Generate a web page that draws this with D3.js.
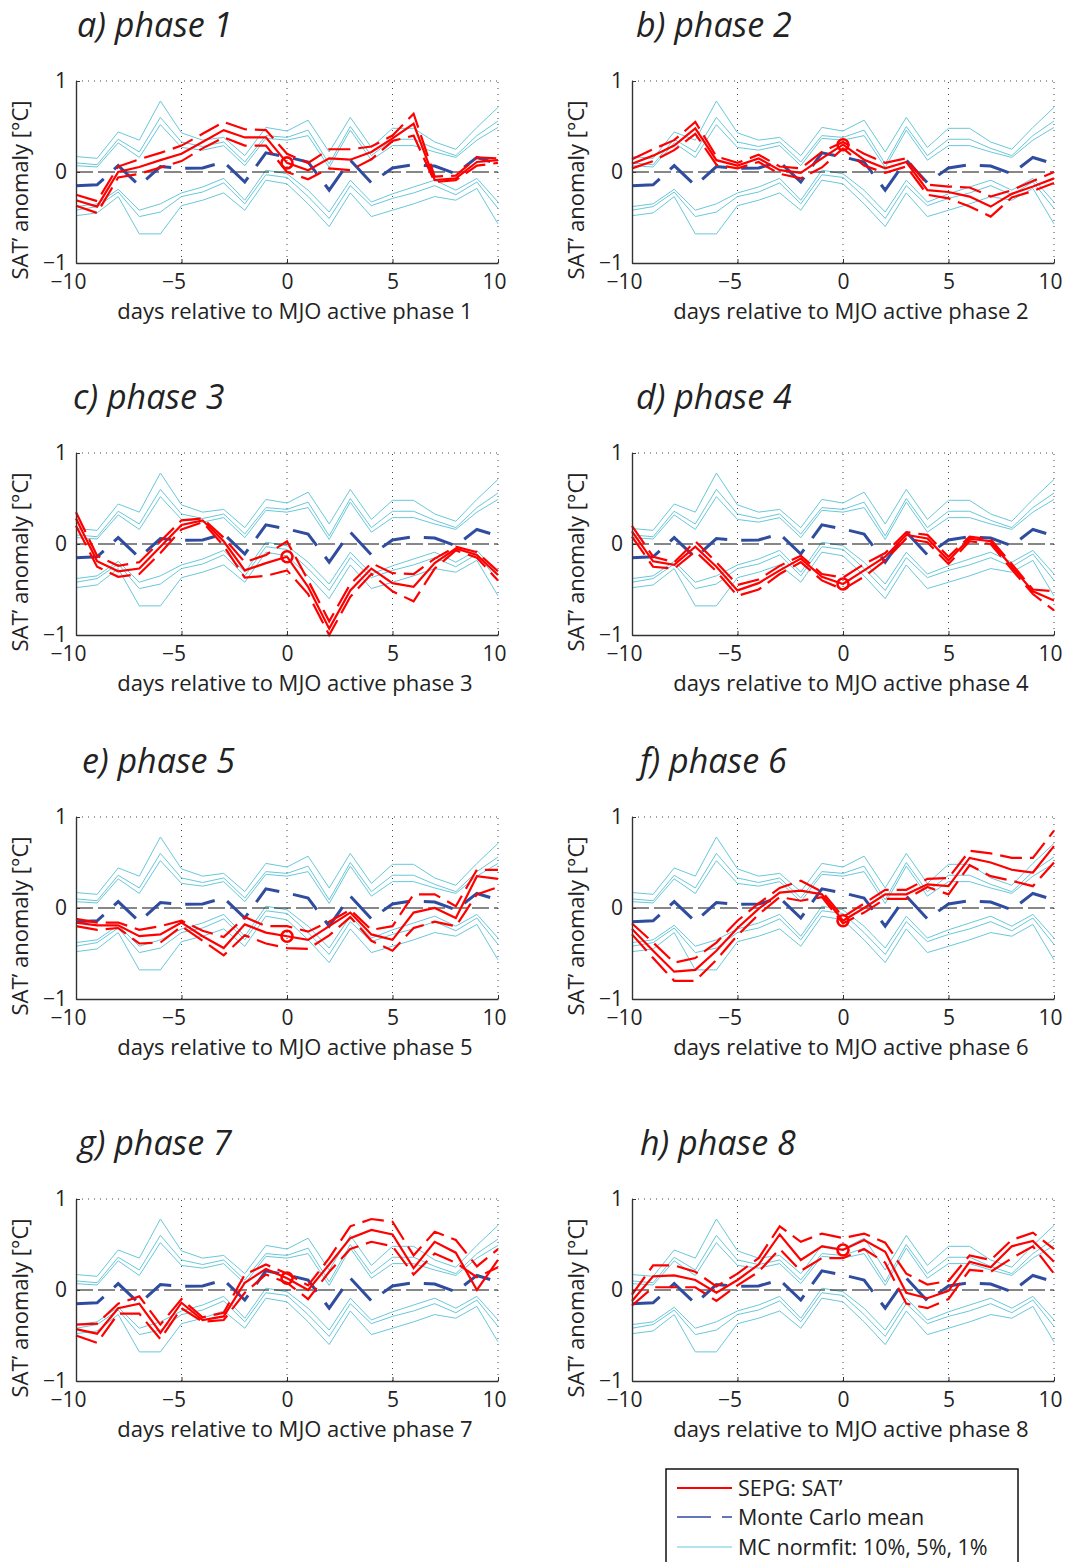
<!DOCTYPE html>
<html>
<head>
<meta charset="utf-8">
<script src="https://cdn.jsdelivr.net/npm/d3@7"></script>
<style>
  body { margin: 0; background: #fff; }
  text { font-family: "Open Sans", "Noto Sans", sans-serif; fill: #222; }
</style>
</head>
<body>
<svg id="fig" width="1072" height="1562"></svg>
<script>
// ---------------- data ----------------
const days = [-10, -9, -8, -7, -6, -5, -4, -3, -2, -1, 0, 1, 2, 3, 4, 5, 6, 7, 8, 9, 10];
const xTicks = [-10, -5, 0, 5, 10];
const yTicks = [-1, 0, 1];
const panelTitles = ["a) phase 1", "b) phase 2", "c) phase 3", "d) phase 4",
                     "e) phase 5", "f) phase 6", "g) phase 7", "h) phase 8"];
const phaseNumbers = [1, 2, 3, 4, 5, 6, 7, 8];

// Monte Carlo significance envelopes (same in every panel)
const mcUpper1  = [0.17, 0.15, 0.44, 0.35, 0.78, 0.43, 0.35, 0.38, 0.18, 0.49, 0.45, 0.57, 0.22, 0.60, 0.27, 0.48, 0.48, 0.33, 0.25, 0.49, 0.71];
const mcUpper5  = [0.10, 0.08, 0.36, 0.22, 0.60, 0.33, 0.28, 0.33, 0.11, 0.40, 0.38, 0.46, 0.09, 0.50, 0.18, 0.36, 0.36, 0.26, 0.18, 0.40, 0.56];
const mcUpper10 = [0.07, 0.055, 0.32, 0.16, 0.52, 0.27, 0.24, 0.29, 0.07, 0.37, 0.35, 0.40, 0.05, 0.46, 0.13, 0.29, 0.29, 0.22, 0.16, 0.35, 0.49];
const mcLower10 = [-0.38, -0.35, -0.19, -0.42, -0.35, -0.23, -0.165, -0.07, -0.31, 0.02, -0.02, -0.20, -0.44, -0.09, -0.33, -0.24, -0.165, -0.09, -0.20, -0.07, -0.33];
const mcLower5  = [-0.42, -0.38, -0.22, -0.49, -0.44, -0.27, -0.22, -0.12, -0.35, -0.03, -0.06, -0.27, -0.51, -0.15, -0.37, -0.29, -0.23, -0.15, -0.25, -0.11, -0.40];
const mcLower1  = [-0.48, -0.45, -0.27, -0.68, -0.68, -0.37, -0.31, -0.23, -0.42, -0.09, -0.13, -0.35, -0.60, -0.23, -0.49, -0.42, -0.35, -0.27, -0.31, -0.18, -0.57];
const mcMean    = [-0.15, -0.14, 0.07, -0.15, 0.06, 0.04, 0.045, 0.11, -0.11, 0.21, 0.165, 0.11, -0.20, 0.13, -0.12, 0.045, 0.08, 0.065, -0.02, 0.16, 0.09];

// SEPG SAT' composites: central estimate and upper / lower bounds per phase
const sepgMid1 = [-0.31, -0.38, 0.0, 0.055, 0.13, 0.20, 0.33, 0.46, 0.38, 0.38, 0.10, 0.02, 0.15, 0.135, 0.22, 0.37, 0.53, -0.09, -0.07, 0.11, 0.13];
const sepgHi1  = [-0.25, -0.32, 0.06, 0.14, 0.21, 0.29, 0.42, 0.55, 0.47, 0.46, 0.20, 0.10, 0.25, 0.25, 0.28, 0.40, 0.64, -0.05, -0.04, 0.16, 0.15];
const sepgLo1  = [-0.37, -0.45, -0.06, -0.02, 0.05, 0.12, 0.26, 0.38, 0.29, 0.29, 0.0, -0.08, 0.04, 0.02, 0.14, 0.34, 0.40, -0.11, -0.09, 0.07, 0.10];

const sepgMid2 = [0.09, 0.18, 0.29, 0.48, 0.13, 0.07, 0.15, 0.02, -0.01, 0.15, 0.30, 0.135, 0.04, 0.11, -0.20, -0.22, -0.27, -0.38, -0.24, -0.16, -0.07];
const sepgHi2  = [0.14, 0.25, 0.35, 0.55, 0.17, 0.10, 0.19, 0.06, 0.04, 0.22, 0.33, 0.20, 0.10, 0.15, -0.14, -0.16, -0.17, -0.27, -0.20, -0.10, 0.0];
const sepgLo2  = [0.04, 0.12, 0.24, 0.42, 0.08, 0.04, 0.11, -0.02, -0.07, 0.05, 0.26, 0.07, -0.01, 0.06, -0.25, -0.29, -0.38, -0.49, -0.28, -0.21, -0.12];

const sepgMid3 = [0.28, -0.19, -0.30, -0.27, -0.03, 0.21, 0.26, 0.03, -0.29, -0.21, -0.14, -0.47, -0.93, -0.51, -0.27, -0.43, -0.47, -0.21, -0.05, -0.12, -0.34];
const sepgHi3  = [0.35, -0.13, -0.24, -0.20, 0.03, 0.26, 0.28, 0.07, -0.20, -0.12, 0.03, -0.40, -0.85, -0.44, -0.21, -0.32, -0.33, -0.16, -0.03, -0.09, -0.30];
const sepgLo3  = [0.20, -0.25, -0.36, -0.33, -0.10, 0.16, 0.24, -0.02, -0.37, -0.35, -0.29, -0.55, -1.0, -0.58, -0.33, -0.52, -0.63, -0.27, -0.07, -0.15, -0.40];

const sepgMid4 = [0.14, -0.19, -0.23, -0.03, -0.25, -0.51, -0.43, -0.29, -0.16, -0.36, -0.44, -0.29, -0.14, 0.10, 0.06, -0.18, 0.06, 0.03, -0.25, -0.52, -0.62];
const sepgHi4  = [0.20, -0.14, -0.20, 0.03, -0.20, -0.45, -0.39, -0.24, -0.13, -0.33, -0.37, -0.22, -0.10, 0.13, 0.10, -0.14, 0.08, 0.05, -0.22, -0.50, -0.52];
const sepgLo4  = [0.08, -0.25, -0.27, -0.08, -0.30, -0.57, -0.50, -0.33, -0.20, -0.40, -0.50, -0.36, -0.18, 0.06, 0.02, -0.22, 0.03, 0.0, -0.28, -0.55, -0.73];

const sepgMid5 = [-0.16, -0.19, -0.19, -0.31, -0.29, -0.16, -0.31, -0.44, -0.18, -0.27, -0.31, -0.35, -0.20, -0.05, -0.29, -0.35, -0.05, 0.0, -0.11, 0.35, 0.32];
const sepgHi5  = [-0.12, -0.16, -0.16, -0.24, -0.20, -0.14, -0.25, -0.32, -0.10, -0.20, -0.20, -0.26, -0.15, -0.02, -0.24, -0.20, 0.15, 0.15, 0.02, 0.42, 0.42];
const sepgLo5  = [-0.20, -0.24, -0.22, -0.39, -0.38, -0.20, -0.36, -0.52, -0.30, -0.39, -0.44, -0.45, -0.30, -0.10, -0.36, -0.47, -0.22, -0.15, -0.20, 0.15, 0.23];

const sepgMid6 = [-0.23, -0.47, -0.70, -0.68, -0.47, -0.22, -0.01, 0.17, 0.19, 0.15, -0.14, 0.0, 0.15, 0.15, 0.26, 0.24, 0.55, 0.50, 0.42, 0.39, 0.68];
const sepgHi6  = [-0.17, -0.38, -0.60, -0.55, -0.38, -0.14, 0.05, 0.22, 0.30, 0.18, -0.10, 0.05, 0.20, 0.20, 0.32, 0.33, 0.63, 0.60, 0.55, 0.55, 0.85];
const sepgLo6  = [-0.29, -0.55, -0.80, -0.80, -0.57, -0.30, -0.07, 0.12, 0.08, 0.12, -0.17, -0.05, 0.10, 0.10, 0.23, 0.15, 0.47, 0.35, 0.30, 0.24, 0.50];

const sepgMid7 = [-0.43, -0.48, -0.20, -0.15, -0.47, -0.14, -0.33, -0.29, 0.08, 0.23, 0.13, 0.0, 0.28, 0.57, 0.66, 0.61, 0.24, 0.53, 0.41, 0.0, 0.33];
const sepgHi7  = [-0.38, -0.37, -0.15, -0.07, -0.38, -0.10, -0.30, -0.25, 0.17, 0.28, 0.18, 0.05, 0.35, 0.70, 0.78, 0.75, 0.38, 0.64, 0.55, 0.26, 0.45];
const sepgLo7  = [-0.50, -0.58, -0.26, -0.26, -0.54, -0.20, -0.35, -0.33, -0.03, 0.17, 0.08, -0.10, 0.20, 0.45, 0.53, 0.48, 0.17, 0.40, 0.30, 0.14, 0.25];

const sepgMid8 = [-0.12, 0.15, 0.16, 0.11, -0.03, 0.11, 0.28, 0.61, 0.33, 0.48, 0.44, 0.55, 0.42, -0.03, -0.09, -0.01, 0.31, 0.25, 0.48, 0.54, 0.31];
const sepgHi8  = [-0.05, 0.27, 0.27, 0.20, 0.04, 0.18, 0.35, 0.70, 0.53, 0.62, 0.57, 0.62, 0.52, 0.18, 0.06, 0.10, 0.38, 0.33, 0.55, 0.63, 0.45];
const sepgLo8  = [-0.17, 0.03, 0.03, 0.03, -0.12, 0.05, 0.20, 0.45, 0.21, 0.35, 0.35, 0.45, 0.30, -0.15, -0.20, -0.10, 0.22, 0.20, 0.35, 0.48, 0.18];

const legendLabels = ["SEPG: SAT\u2019", "Monte Carlo mean", "MC normfit: 10%, 5%, 1%"];

// ---------------- layout & style ----------------
const sepgMid = [sepgMid1, sepgMid2, sepgMid3, sepgMid4, sepgMid5, sepgMid6, sepgMid7, sepgMid8];
const sepgHi  = [sepgHi1, sepgHi2, sepgHi3, sepgHi4, sepgHi5, sepgHi6, sepgHi7, sepgHi8];
const sepgLo  = [sepgLo1, sepgLo2, sepgLo3, sepgLo4, sepgLo5, sepgLo6, sepgLo7, sepgLo8];
const mcBands = [mcUpper1, mcUpper5, mcUpper10, mcLower10, mcLower5, mcLower1];

const colLeft = [76, 632], plotW = 422;
const rowTop = [81, 453, 817, 1199], plotH = 182;
const titleX = [77, 636, 73, 636, 82, 640, 78, 640];

const RED = "#ff0000", BLUE = "#2f4c9f", CYAN = "#68c8da", AXIS = "#333";

const svg = d3.select("#fig");

function drawPanel(p) {
  const col = p % 2, row = Math.floor(p / 2);
  const left = colLeft[col], top = rowTop[row];
  const x = d3.scaleLinear().domain([-10, 10]).range([left, left + plotW]);
  const y = d3.scaleLinear().domain([-1, 1]).range([top + plotH, top]);
  const g = svg.append("g");

  // dotted grid: verticals at the x ticks, horizontal along the top
  g.selectAll(".vg").data(xTicks.filter(t => t > -10)).join("line")
    .attr("x1", d => x(d)).attr("x2", d => x(d)).attr("y1", y(-1)).attr("y2", y(1))
    .attr("stroke", "#444").attr("stroke-width", 1).attr("stroke-dasharray", "1,5");
  g.append("line")
    .attr("x1", x(-10)).attr("x2", x(10)).attr("y1", y(1)).attr("y2", y(1))
    .attr("stroke", "#444").attr("stroke-width", 1).attr("stroke-dasharray", "1,5");

  const line = d3.line().x((d, i) => x(days[i])).y(d => y(d));

  // Monte Carlo envelopes
  g.selectAll(".band").data(mcBands).join("path")
    .attr("d", line).attr("fill", "none").attr("stroke", CYAN).attr("stroke-width", 1);

  // zero reference
  g.append("line").attr("x1", x(-10)).attr("x2", x(10)).attr("y1", y(0)).attr("y2", y(0))
    .attr("stroke", "#111").attr("stroke-width", 1.2).attr("stroke-dasharray", "17,5");

  // Monte Carlo mean
  g.append("path").attr("d", line(mcMean)).attr("fill", "none")
    .attr("stroke", BLUE).attr("stroke-width", 3).attr("stroke-dasharray", "30,14");

  // SEPG composites
  [sepgHi[p], sepgLo[p]].forEach(s => {
    g.append("path").attr("d", line(s)).attr("fill", "none")
      .attr("stroke", RED).attr("stroke-width", 2.2).attr("stroke-dasharray", "22,8");
  });
  g.append("path").attr("d", line(sepgMid[p])).attr("fill", "none")
    .attr("stroke", RED).attr("stroke-width", 2.2);
  const i0 = days.indexOf(0);
  g.append("circle").attr("cx", x(0)).attr("cy", y(sepgMid[p][i0])).attr("r", 5.5)
    .attr("fill", "none").attr("stroke", RED).attr("stroke-width", 2.6);

  // axes
  const ax = g.append("g").attr("transform", `translate(0,${y(-1)})`)
    .call(d3.axisBottom(x).tickValues(xTicks).tickSizeInner(-4).tickSizeOuter(0).tickPadding(11));
  const ay = g.append("g").attr("transform", `translate(${x(-10)},0)`)
    .call(d3.axisLeft(y).tickValues(yTicks).tickSizeInner(-4).tickSizeOuter(0).tickPadding(9).tickFormat(d3.format("d")));
  [ax, ay].forEach(a => {
    a.select(".domain").attr("stroke", AXIS).attr("stroke-width", 1.4);
    a.selectAll(".tick line").attr("stroke", AXIS);
    a.selectAll("text").attr("font-size", 21).attr("font-family", null).attr("fill", "#222");
  });
  ax.selectAll(".tick text").attr("dx", d => d < 0 ? -8 : (d >= 10 ? -4 : 0));

  // labels
  g.append("text").attr("x", x(0) + 8).attr("y", top + plotH + 56)
    .attr("text-anchor", "middle").attr("font-size", 22)
    .text(`days relative to MJO active phase ${phaseNumbers[p]}`);
  g.append("text").attr("transform", `translate(${left - 48},${top + plotH / 2 + 18}) rotate(-90)`)
    .attr("text-anchor", "middle").attr("font-size", 22)
    .text("SAT\u2019 anomaly [\u00B0C]");
  g.append("text").attr("x", titleX[p]).attr("y", top - 44)
    .attr("font-size", 34).attr("font-style", "italic").attr("fill", "#111")
    .text(panelTitles[p]);
}

phaseNumbers.forEach((_, p) => drawPanel(p));

// legend
const lg = svg.append("g");
lg.append("rect").attr("x", 666).attr("y", 1469).attr("width", 352).attr("height", 110)
  .attr("fill", "#fff").attr("stroke", "#111").attr("stroke-width", 1.5);
const legendRows = [1488, 1517, 1547];
const legendStyles = [
  { stroke: RED, width: 2, dash: null },
  { stroke: BLUE, width: 1.5, dash: "34,11" },
  { stroke: CYAN, width: 1.2, dash: null }
];
legendLabels.forEach((lab, i) => {
  lg.append("line").attr("x1", 677).attr("x2", 732).attr("y1", legendRows[i]).attr("y2", legendRows[i])
    .attr("stroke", legendStyles[i].stroke).attr("stroke-width", legendStyles[i].width)
    .attr("stroke-dasharray", legendStyles[i].dash);
  lg.append("text").attr("x", 738).attr("y", legendRows[i]).attr("dy", "0.35em")
    .attr("font-size", 21.5).text(lab);
});
</script>
</body>
</html>
